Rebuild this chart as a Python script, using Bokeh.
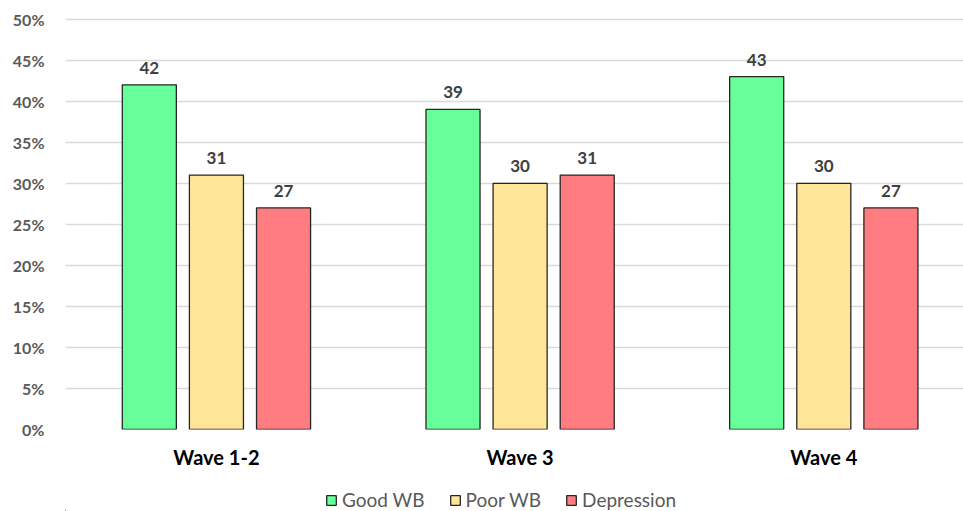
from bokeh.plotting import figure
from bokeh.layouts import column
from bokeh.models import (Range1d, FixedTicker, PrintfTickFormatter, ColumnDataSource,
                          Legend, LegendItem)
from bokeh.core.properties import value
from bokeh.embed import file_html
from bokeh.resources import INLINE

waves = ["Wave 1-2", "Wave 3", "Wave 4"]
series = ["Good WB", "Poor WB", "Depression"]
good_wb = [42, 39, 43]
poor_wb = [31, 30, 30]
depression = [27, 31, 27]
colors = ["#66FF99", "#FFE699", "#FF7C80"]
y_ticks = list(range(0, 55, 5))

FONT = "Lato"

p = figure(width=963, height=480, output_backend="svg", toolbar_location=None,
           x_range=Range1d(-0.497, 2.46), y_range=Range1d(0, 50.2),
           min_border_left=65, min_border_right=0, min_border_top=17,
           min_border_bottom=51)
p.outline_line_color = None
p.background_fill_color = "white"
p.border_fill_color = "white"

# separate strip for the legend below the chart
lg = figure(width=963, height=31, output_backend="svg", toolbar_location=None,
            x_range=Range1d(100, 101), y_range=Range1d(100, 101),
            min_border_left=0, min_border_right=0, min_border_top=0,
            min_border_bottom=0)
lg.axis.visible = False
lg.grid.visible = False
lg.outline_line_color = None

offsets = [-0.221, 0.0, 0.221]
bar_w = 0.178
items = []
for vals, name, col, off in zip([good_wb, poor_wb, depression], series, colors, offsets):
    xs = [i + off for i in range(len(waves))]
    src = ColumnDataSource(dict(x=xs, top=vals, lab=[str(v) for v in vals]))
    p.vbar(x="x", top="top", width=bar_w, source=src, fill_color=col,
           line_color="#262626", line_width=1.3)
    p.text(x="x", y="top", text="lab", source=src, text_align="center",
           text_baseline="bottom", y_offset=-11, text_font=value(FONT),
           text_font_style="bold", text_font_size="17px", text_color="#404040")
    # legend swatch renderer (same data, lies outside the strip's ranges)
    r = lg.vbar(x="x", top="top", width=bar_w, source=src, fill_color=col,
                line_color="#262626", line_width=1.3)
    items.append(LegendItem(label=name, renderers=[r]))

p.xaxis.ticker = FixedTicker(ticks=[0, 1, 2])
p.xaxis.major_label_overrides = {0: waves[0], 1: waves[1], 2: waves[2]}
p.xaxis.axis_line_color = None
p.xaxis.major_tick_line_color = None
p.xaxis.minor_tick_line_color = None
p.xaxis.major_label_standoff = 9
p.xaxis.major_label_text_font = FONT
p.xaxis.major_label_text_font_style = "bold"
p.xaxis.major_label_text_font_size = "20px"
p.xaxis.major_label_text_color = "#000000"

p.yaxis.ticker = FixedTicker(ticks=y_ticks)
p.yaxis.formatter = PrintfTickFormatter(format="%d%%")
p.yaxis.axis_line_color = None
p.yaxis.major_tick_line_color = None
p.yaxis.minor_tick_line_color = None
p.yaxis.major_label_standoff = 15
p.yaxis.major_label_text_font = FONT
p.yaxis.major_label_text_font_style = "bold"
p.yaxis.major_label_text_font_size = "16px"
p.yaxis.major_label_text_color = "#595959"

p.xgrid.grid_line_color = None
p.ygrid.grid_line_color = "#D9D9D9"
p.ygrid.grid_line_width = 1.3

legend = Legend(items=items, orientation="horizontal", location=(260, 0),
                label_text_font=FONT, label_text_font_size="19px",
                label_text_color="#595959", glyph_width=12, glyph_height=12,
                spacing=24, padding=0, margin=0, border_line_color=None,
                background_fill_alpha=0, label_standoff=5, label_height=21)
lg.add_layout(legend, "center")

layout = column(p, lg, spacing=0)
open("out.html", "w").write(file_html(layout, INLINE))
